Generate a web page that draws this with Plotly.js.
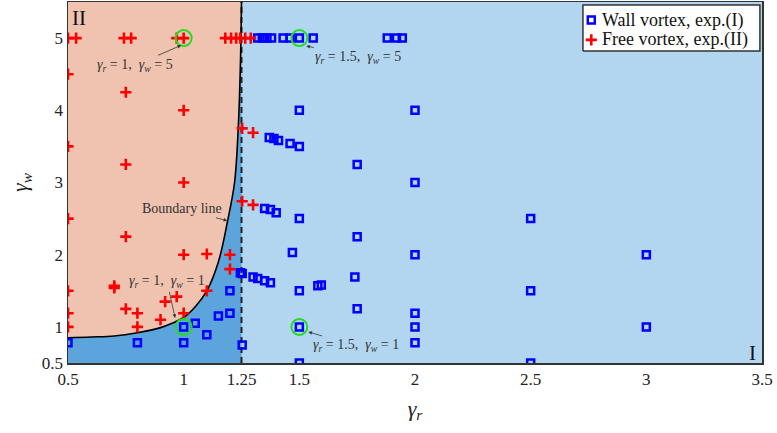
<!DOCTYPE html>
<html>
<head>
<meta charset="utf-8">
<script src="https://cdn.plot.ly/plotly-3.0.1.min.js"></script>
<style>html,body{margin:0;padding:0;background:#fff;}#chart{width:777px;height:433px;}</style>
</head>
<body>
<div id="chart"></div>
<script>
// ---- data ----
const wallX = [1.32,1.34,1.36,1.38,1.43,1.46,1.5,1.56,1.88,1.92,1.945,
  1.5,2.0,
  1.37,1.39,1.41,1.46,1.5,
  1.75,2.0,
  1.35,1.375,1.4,1.5,1.75,2.5,
  1.47,2.0,3.0,
  1.245,1.253,1.3,1.32,1.35,1.375,
  1.5,1.58,1.595,1.74,1.75,2.5,
  2.0,2.0,2.0,1.5,1.5,2.5,3.0,
  1.2,1.2,1.253,1.15,1.1,1.05,1.0,1.0,0.8,0.5];
const wallY = [5,5,5,5,5,5,5,5,5,5,5,
  4,4,
  3.625,3.61,3.58,3.54,3.5,
  3.25,3,
  2.64,2.625,2.58,2.5,2.25,2.5,
  2.03,2,2,
  1.75,1.74,1.69,1.67,1.64,1.61,
  1.5,1.57,1.58,1.69,1.25,1.5,
  1.19,1.0,0.78,1.0,0.5,0.5,1.0,
  1.5,1.19,0.75,1.15,0.89,1.05,1.0,0.78,0.78,0.78];

const freeX = [0.5,0.535,0.742,0.773,0.97,1.0,1.18,1.205,1.227,1.245,1.266,1.29,
  0.5,0.75,1.0,0.5,0.75,1.0,
  1.253,1.30,1.253,1.30,
  0.5,0.75,1.0,1.1,1.2,1.2,
  0.5,0.7,0.7,1.1,0.97,0.92,
  0.5,0.75,0.8,1.0,0.5,0.8,0.9];
const freeY = [5,5,5,5,5,5,5,5,5,5,5,5,
  4.5,4.25,4,3.5,3.25,3,
  3.75,3.69,2.74,2.69,
  2.5,2.25,2,2.01,2,1.8,
  1.5,1.57,1.54,1.5,1.42,1.35,
  1.19,1.25,1.19,1.19,1.0,1.0,1.1];

const highlightX = [1.0,1.5,1.0,1.5];
const highlightY = [5.0,5.0,1.0,1.0];

const boundaryX = [0.5,0.6,0.7,0.8,0.9,0.95,1.0,1.05,1.1,1.15,1.19,1.22,1.236,1.245,1.25];
const boundaryY = [0.85,0.86,0.875,0.92,0.99,1.05,1.13,1.28,1.5,1.9,2.47,3.0,3.76,4.6,5.5];

const seriesNames = ['Wall vortex, exp.(I)', 'Free vortex, exp.(II)'];

const xRange = [0.5,3.5];
const yRange = [0.5,5.5];
const regimeSplit = 1.25;
const xTicks = [0.5,1,1.25,1.5,2,2.5,3,3.5];
const xTickText = ['0.5','1','1.25','1.5','2','2.5','3','3.5'];
const yTicks = [0.5,1,2,3,4,5];
const yTickText = ['0.5','1','2','3','4','5'];

// ---- styling ----
const SERIF = '"Times New Roman", "Liberation Serif", Times, serif';
const salmon = '#f0c3b0';
const darkBlue = '#5ba4dc';
const lightBlue = '#b2d6f0';
const wallMarker = {symbol: 'square-open', size: 7, color: '#0000ff', line: {width: 2.5, color: '#0000ff'}};
const freeMarker = {symbol: 'cross-thin', size: 8, color: '#ff0000', line: {width: 2.6, color: '#ff0000'}};

// legend box geometry (fractions of the plot area)
const lgBox = {x0: 0.742, x1: 0.997, y0: 0.864, y1: 0.992};
const lgRows = [0.950, 0.895];
const lgMarkX = 0.754, lgTextX = 0.767;

const traces = [
  {
    x: boundaryX, y: boundaryY, mode: 'lines', line: {width: 0, shape: 'spline'},
    fill: 'tozeroy', fillcolor: darkBlue, showlegend: false, hoverinfo: 'skip'
  },
  {
    x: [xRange[0], regimeSplit], y: [yRange[1], yRange[1]], mode: 'lines',
    line: {width: 0}, showlegend: false, hoverinfo: 'skip'
  },
  {
    x: boundaryX, y: boundaryY, mode: 'lines', line: {width: 0, shape: 'spline'},
    fill: 'tonexty', fillcolor: salmon, showlegend: false, hoverinfo: 'skip'
  },
  {
    x: [regimeSplit, regimeSplit], y: yRange, mode: 'lines',
    line: {color: '#222', width: 2, dash: '6px,4px'}, showlegend: false, hoverinfo: 'skip'
  },
  {
    x: boundaryX, y: boundaryY, mode: 'lines',
    line: {color: '#000', width: 1.6, shape: 'spline'}, showlegend: false, hoverinfo: 'skip'
  },
  { name: seriesNames[0], x: wallX, y: wallY, mode: 'markers', marker: wallMarker, showlegend: false },
  { name: seriesNames[1], x: freeX, y: freeY, mode: 'markers', marker: freeMarker, showlegend: false },
  {
    x: highlightX, y: highlightY, mode: 'markers', showlegend: false,
    marker: {symbol: 'circle-open', size: 16, color: '#22dd22', line: {width: 2, color: '#22dd22'}}
  },
  // legend box and keys on an overlay axis spanning [0,1]
  {
    x: [lgBox.x0, lgBox.x1, lgBox.x1, lgBox.x0, lgBox.x0],
    y: [lgBox.y0, lgBox.y0, lgBox.y1, lgBox.y1, lgBox.y0],
    xaxis: 'x2', yaxis: 'y2', mode: 'lines', fill: 'toself', fillcolor: '#ffffff',
    line: {color: '#333', width: 1.5}, showlegend: false, hoverinfo: 'skip'
  },
  { x: [lgMarkX], y: [lgRows[0]], xaxis: 'x2', yaxis: 'y2', mode: 'markers', marker: wallMarker, showlegend: false },
  { x: [lgMarkX], y: [lgRows[1]], xaxis: 'x2', yaxis: 'y2', mode: 'markers', marker: freeMarker, showlegend: false }
];

const annFont = {family: SERIF, size: 14, color: '#333'};
const arrowCommon = {showarrow: true, arrowhead: 2, arrowsize: 0.9, arrowwidth: 0.8, arrowcolor: '#333', font: annFont};
const g = (s) => '<i>γ<sub>' + s + '</sub></i>';

const annotations = [
  Object.assign({x: 0.989, y: 4.9, ax: -46, ay: 20, text: g('r') + ' = 1,  ' + g('w') + ' = 5'}, arrowCommon),
  Object.assign({x: 1.53, y: 4.89, ax: 52, ay: 11, text: g('r') + ' = 1.5,  ' + g('w') + ' = 5'}, arrowCommon),
  Object.assign({x: 1.188, y: 2.47, ax: -45, ay: -12, text: 'Boundary line'}, arrowCommon),
  Object.assign({x: 0.963, y: 1.125, ax: -8, ay: -36, text: g('r') + ' = 1,  ' + g('w') + ' = 1'}, arrowCommon),
  Object.assign({x: 1.539, y: 0.93, ax: 48, ay: 14, text: g('r') + ' = 1.5,  ' + g('w') + ' = 1'}, arrowCommon),
  {x: 0.548, y: 5.28, text: 'II', showarrow: false, font: {family: SERIF, size: 21, color: '#111'}},
  {x: 3.457, y: 0.64, text: 'I', showarrow: false, font: {family: SERIF, size: 21, color: '#111'}},
  {xref: 'paper', yref: 'paper', x: lgTextX, y: lgRows[0], xanchor: 'left', yanchor: 'middle',
   text: seriesNames[0], showarrow: false, font: {family: SERIF, size: 18, color: '#111'}},
  {xref: 'paper', yref: 'paper', x: lgTextX, y: lgRows[1], xanchor: 'left', yanchor: 'middle',
   text: seriesNames[1], showarrow: false, font: {family: SERIF, size: 18, color: '#111'}}
];

const layout = {
  width: 777, height: 433,
  margin: {l: 68, r: 15, t: 2, b: 70},
  paper_bgcolor: '#fff', plot_bgcolor: lightBlue,
  font: {family: SERIF, size: 17, color: '#222'},
  showlegend: false,
  xaxis: {
    range: xRange, tickvals: xTicks, ticktext: xTickText, showgrid: false, zeroline: false,
    showline: true, mirror: true, linecolor: '#333', linewidth: 1.5, ticks: '',
    tickfont: {family: SERIF, size: 17, color: '#222'},
    title: {text: '<i>γ<sub>r</sub></i>', font: {family: SERIF, size: 22, color: '#222'}, standoff: 12}
  },
  yaxis: {
    range: yRange, tickvals: yTicks, ticktext: yTickText, showgrid: false, zeroline: false,
    showline: true, mirror: true, linecolor: '#333', linewidth: 1.5, ticks: '',
    tickfont: {family: SERIF, size: 17, color: '#222'},
    title: {text: '<i>γ<sub>w</sub></i>', font: {family: SERIF, size: 22, color: '#222'}, standoff: 8}
  },
  xaxis2: {overlaying: 'x', range: [0, 1], visible: false, fixedrange: true},
  yaxis2: {overlaying: 'y', range: [0, 1], visible: false, fixedrange: true},
  annotations: annotations
};

Plotly.newPlot('chart', traces, layout, {staticPlot: true, displayModeBar: false});
</script>
</body>
</html>
